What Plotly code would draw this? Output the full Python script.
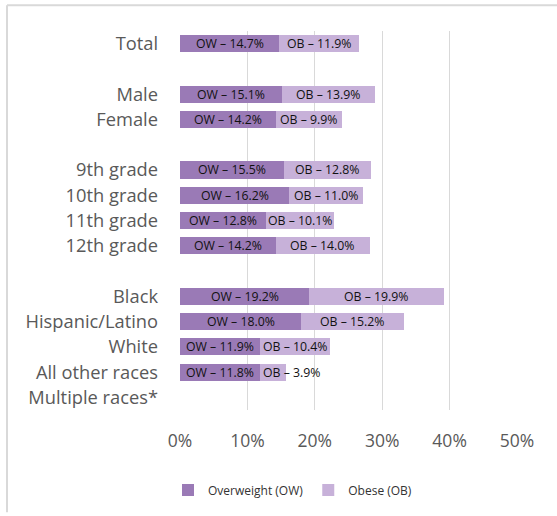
import plotly.graph_objects as go

categories = ["Total", " ", "Male", "Female", "  ", "9th grade", "10th grade", "11th grade",
              "12th grade", "   ", "Black", "Hispanic/Latino", "White", "All other races",
              "Multiple races*"]
overweight = [14.7, None, 15.1, 14.2, None, 15.5, 16.2, 12.8, 14.2, None, 19.2, 18.0, 11.9, 11.8, None]
obese = [11.9, None, 13.9, 9.9, None, 12.8, 11.0, 10.1, 14.0, None, 19.9, 15.2, 10.4, 3.9, None]
x_ticks = [0, 10, 20, 30, 40, 50]
x_tick_labels = ["0%", "10%", "20%", "30%", "40%", "50%"]

OW_COLOR = "#9a7ab6"
OB_COLOR = "#c7b1d9"
FONT = "Open Sans"
LABEL_FONT = dict(family=FONT, size=12.3, color="#111111")

fig = go.Figure()
fig.add_trace(go.Bar(
    y=categories, x=overweight, orientation="h", name="Overweight (OW)",
    marker=dict(color=OW_COLOR, line=dict(width=0)), width=0.68, hoverinfo="skip",
))
fig.add_trace(go.Bar(
    y=categories, x=obese, orientation="h", name="Obese (OB)",
    marker=dict(color=OB_COLOR, line=dict(width=0)), width=0.68, hoverinfo="skip",
))

# data labels
annotations = []
for cat, ow, ob in zip(categories, overweight, obese):
    if ow is None:
        continue
    annotations.append(dict(x=ow / 2, y=cat, xref="x", yref="y", text=f"OW – {ow:.1f}%",
                            showarrow=False, font=LABEL_FONT, xanchor="center"))
    if ob < 6:
        annotations.append(dict(x=ow, y=cat, xref="x", yref="y", text=f"OB – {ob:.1f}%",
                                showarrow=False, font=LABEL_FONT, xanchor="left", xshift=1))
    else:
        annotations.append(dict(x=ow + ob / 2, y=cat, xref="x", yref="y", text=f"OB – {ob:.1f}%",
                                showarrow=False, font=LABEL_FONT, xanchor="center"))

L, R, T, B = 180, 40, 31, 103
W, H = 557, 516
pw, ph = W - L - R, H - T - B

def px_x(px):
    return (px - L) / pw

def px_y(py):
    return (H - B - py) / ph

fig.update_layout(
    width=W, height=H,
    margin=dict(l=L, r=R, t=T, b=B, pad=0),
    barmode="stack",
    plot_bgcolor="white", paper_bgcolor="white",
    font=dict(family=FONT, color="#595959"),
    showlegend=True,
    annotations=annotations,
    legend=dict(orientation="h", x=px_x(168), y=px_y(479), xanchor="left", yanchor="top",
                font=dict(family=FONT, size=12, color="#333333"),
                itemwidth=30, traceorder="normal", itemclick=False),
    shapes=[
        dict(type="line", xref="paper", yref="paper", x0=px_x(7), x1=px_x(7),
             y0=px_y(5), y1=px_y(516), line=dict(color="#d9d9d9", width=2)),
        dict(type="line", xref="paper", yref="paper", x0=px_x(7), x1=px_x(557),
             y0=px_y(5), y1=px_y(5), line=dict(color="#d9d9d9", width=2)),
    ],
)
fig.update_xaxes(
    range=[0, 50], tickvals=x_ticks, ticktext=x_tick_labels,
    showgrid=True, gridcolor="#d9d9d9", gridwidth=1, zeroline=False,
    showline=False, ticks="", ticklabelstandoff=18,
    tickfont=dict(family=FONT, size=17.5, color="#595959"), fixedrange=True,
)
fig.update_yaxes(
    categoryorder="array", categoryarray=categories, autorange="reversed",
    showgrid=False, zeroline=False, showline=False, ticks="",
    ticklabelstandoff=21,
    tickfont=dict(family=FONT, size=18.3, color="#595959"), fixedrange=True,
)

fig.write_html("out.html")
